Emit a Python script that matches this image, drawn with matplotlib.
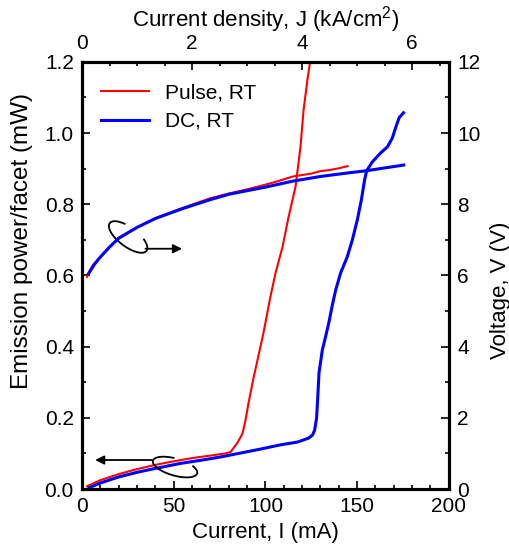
import numpy as np
import matplotlib
matplotlib.use('Agg')
import matplotlib.pyplot as plt
from matplotlib.ticker import MultipleLocator

plt.rcParams['font.family'] = ['Liberation Sans', 'DejaVu Sans']
plt.rcParams['mathtext.fontset'] = 'custom'
plt.rcParams['mathtext.rm'] = 'Liberation Sans'

# ---- data ----
# Pulse, RT : emission power (mW) vs current (mA)
i_pulse_p = [2.7, 10, 20, 30, 40, 50, 60, 70, 78, 81, 84.7, 87.4, 89, 90.7, 93.4,
             98.9, 102.7, 105.5, 109.3, 112.6, 116.4, 119.1, 120.8, 122.9, 125.5]
p_pulse = [0.008, 0.025, 0.042, 0.056, 0.068, 0.078, 0.087, 0.094, 0.100, 0.104, 0.130,
           0.155, 0.190, 0.240, 0.310, 0.438, 0.540, 0.607, 0.680, 0.764, 0.849, 0.961,
           1.065, 1.150, 1.240]

# DC, RT : emission power (mW) vs current (mA)
i_dc_p = [3.8, 10, 20, 30, 40, 53.6, 65, 75.4, 86.3, 98, 108, 117.5, 123.5, 125.7, 126.8,
          127.9, 128.6, 129.2, 131, 132.8, 134.6, 136.4, 138.3, 141, 144.6, 147.4, 150.1,
          152.3, 154.1, 155.2, 158.3, 162.8, 166.5, 169.2, 171, 172.9, 175.3]
p_dc = [0.004, 0.017, 0.034, 0.047, 0.058, 0.072, 0.081, 0.090, 0.101, 0.113, 0.124, 0.132,
        0.143, 0.152, 0.165, 0.200, 0.265, 0.326, 0.390, 0.428, 0.468, 0.515, 0.559, 0.607,
        0.652, 0.700, 0.756, 0.812, 0.869, 0.894, 0.919, 0.944, 0.961, 0.986, 1.015, 1.043,
        1.057]

# Pulse, RT : voltage (V) vs current (mA)
i_pulse_v = [2.7, 4, 6, 10, 15, 20, 30, 40, 55, 70, 80, 90, 100, 105, 110, 115, 120, 125,
             130, 135, 140, 144.8]
v_pulse = [5.96, 6.12, 6.30, 6.52, 6.80, 7.03, 7.35, 7.61, 7.90, 8.17, 8.30, 8.42, 8.55,
           8.62, 8.70, 8.78, 8.82, 8.86, 8.93, 8.96, 9.01, 9.07]

# DC, RT : voltage (V) vs current (mA)
i_dc_v = [3.5, 5, 7, 10, 15, 20, 30, 40, 55, 70, 80, 90, 100, 115, 130, 145, 155, 165, 175.4]
v_dc = [6.05, 6.17, 6.33, 6.52, 6.80, 7.05, 7.35, 7.60, 7.88, 8.13, 8.28, 8.38, 8.48, 8.65,
        8.78, 8.88, 8.94, 9.02, 9.10]

MA_PER_KACM2 = 30.0   # 1 kA/cm2 <-> 30 mA

fs_tick = 15
fs_lab = 16

fig = plt.figure(figsize=(5.1, 5.57), dpi=100)
ax = fig.add_axes([0.161, 0.122, 0.719, 0.767])
ax2 = ax.twinx()
ax3 = ax.twiny()

ax.plot(i_pulse_p, p_pulse, color='red', lw=1.5, label='Pulse, RT')
ax.plot(i_dc_p, p_dc, color='blue', lw=2.2, label='DC, RT')
ax2.plot(i_pulse_v, v_pulse, color='red', lw=1.5)
ax2.plot(i_dc_v, v_dc, color='blue', lw=2.2)

ax.set_xlim(0, 200)
ax.set_ylim(0, 1.2)
ax2.set_ylim(0, 12)
ax3.set_xlim(0, 200 / MA_PER_KACM2)

ax.xaxis.set_major_locator(MultipleLocator(50))
ax.xaxis.set_minor_locator(MultipleLocator(10))
ax.yaxis.set_major_locator(MultipleLocator(0.2))
ax.yaxis.set_minor_locator(MultipleLocator(0.1))
ax.yaxis.set_major_formatter(matplotlib.ticker.FormatStrFormatter('%.1f'))
ax2.yaxis.set_major_locator(MultipleLocator(2))
ax2.yaxis.set_minor_locator(MultipleLocator(1))
ax3.xaxis.set_major_locator(MultipleLocator(2))
ax3.xaxis.set_minor_locator(MultipleLocator(0.5))

for a in (ax, ax2, ax3):
    for s in a.spines.values():
        s.set_linewidth(2.2)
    a.tick_params(which='both', direction='in', width=1.2, labelsize=fs_tick, pad=6)
    a.tick_params(which='major', length=5.5)
    a.tick_params(which='minor', length=3.2)
ax.tick_params(which='both', top=False, right=False)
ax2.tick_params(which='both', left=False, top=False, bottom=False)
ax3.tick_params(which='both', bottom=False, left=False, right=False)

ax.set_xlabel('Current, I (mA)', fontsize=fs_lab, labelpad=4)
ax.set_ylabel('Emission power/facet (mW)', fontsize=17.5)
ax.yaxis.set_label_coords(-0.135, 0.58)
ax2.set_ylabel('Voltage, V (V)', fontsize=fs_lab)
ax2.yaxis.set_label_coords(1.112, 0.466)
ax3.set_xlabel('Current density, J (kA/cm$^{2}$)', fontsize=fs_lab, labelpad=6)

ax.legend(loc='upper left', bbox_to_anchor=(0.0, 0.993), frameon=False, fontsize=fs_tick,
          handlelength=2.3, handletextpad=0.8, labelspacing=0.45)


def loop(axis, xc, yc, a, b, phi, t0, t1):
    # open ellipse drawn in pixel units around a data point
    t = np.radians(np.linspace(t0, t1, 120))
    ph = np.radians(phi)
    dx = a * np.cos(t) * np.cos(ph) - b * np.sin(t) * np.sin(ph)
    dy = a * np.cos(t) * np.sin(ph) + b * np.sin(t) * np.cos(ph)
    x0, y0 = axis.transData.transform((xc, yc))
    pts = axis.transData.inverted().transform(np.column_stack([x0 + dx, y0 + dy]))
    axis.plot(pts[:, 0], pts[:, 1], color='black', lw=1.3)


arrow = dict(arrowstyle='-|>', color='black', lw=1.3, mutation_scale=13, shrinkA=0, shrinkB=0)
# voltage curves -> right axis
loop(ax, 25.1, 0.708, 23, 9.5, -37, 118, 412)
ax.annotate('', xy=(54.5, 0.675), xytext=(34.6, 0.675), arrowprops=arrow)
# power curves -> left axis
loop(ax, 50.7, 0.0618, 23, 8.5, -16, 100, 402)
ax.annotate('', xy=(7.1, 0.0815), xytext=(38.2, 0.0815), arrowprops=arrow)

plt.savefig('out.png', dpi=100)
